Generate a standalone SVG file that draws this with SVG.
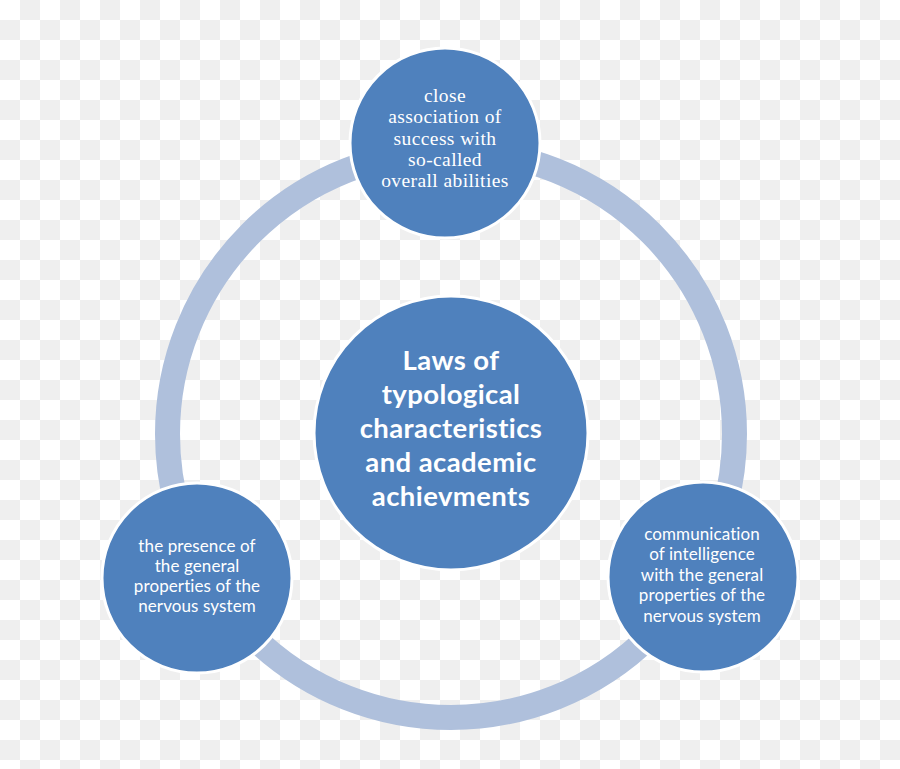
<svg xmlns="http://www.w3.org/2000/svg" width="900" height="769" viewBox="0 0 900 769">
<defs>
<pattern id="checker" width="40" height="40" patternUnits="userSpaceOnUse">
<rect width="40" height="40" fill="#ffffff"/>
<rect x="20" y="0" width="20" height="20" fill="#efefef"/>
<rect x="0" y="20" width="20" height="20" fill="#efefef"/>
</pattern>
<style>
.node{fill:#4f81bd;stroke:#ffffff;stroke-width:3}
.ring{fill:none;stroke:#afc0dc;stroke-width:25}
.serif{font-family:"Liberation Serif","Times New Roman",serif;font-size:19.5px;letter-spacing:0.4px;fill:#ffffff;text-anchor:middle}
.small{font-family:Lato,"Liberation Sans",sans-serif;font-size:17px;letter-spacing:0.1px;fill:#ffffff;text-anchor:middle}
.big{font-family:Lato,"Liberation Sans",sans-serif;font-size:27.5px;letter-spacing:0.4px;font-weight:bold;fill:#ffffff;text-anchor:middle}
</style>
</defs>
<rect width="900" height="769" fill="url(#checker)"/>
<g id="connectors">
<circle class="ring" cx="451" cy="434" r="283.5"/>
</g>
<g id="center">
<circle class="node" cx="451" cy="433" r="137"/>
<text class="big" x="451" y="370">Laws of</text>
<text class="big" x="451" y="404">typological</text>
<text class="big" x="451" y="438">characteristics</text>
<text class="big" x="451" y="472">and academic</text>
<text class="big" x="451" y="506">achievments</text>
</g>
<g id="top">
<circle class="node" cx="445" cy="143" r="95"/>
<text class="serif" x="445" y="102">close</text>
<text class="serif" x="445" y="123">association of</text>
<text class="serif" x="445" y="145">success with</text>
<text class="serif" x="445" y="166">so-called</text>
<text class="serif" x="445" y="187">overall abilities</text>
</g>
<g id="left">
<circle class="node" cx="197" cy="578" r="95"/>
<text class="small" x="197" y="552">the presence of</text>
<text class="small" x="197" y="572">the general</text>
<text class="small" x="197" y="592">properties of the</text>
<text class="small" x="197" y="612">nervous system</text>
</g>
<g id="right">
<circle class="node" cx="703" cy="577" r="95"/>
<text class="small" x="702" y="540">communication</text>
<text class="small" x="702" y="560">of intelligence</text>
<text class="small" x="702" y="581">with the general</text>
<text class="small" x="702" y="601">properties of the</text>
<text class="small" x="702" y="622">nervous system</text>
</g>
</svg>
